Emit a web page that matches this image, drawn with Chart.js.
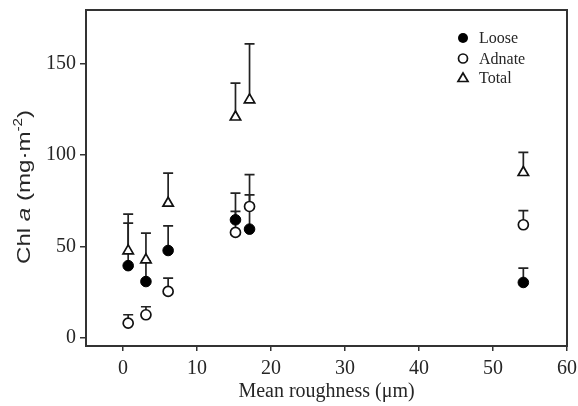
<!DOCTYPE html>
<html>
<head>
<meta charset="utf-8">
<script src="https://cdn.jsdelivr.net/npm/chart.js@4.4.1/dist/chart.umd.min.js"></script>
<style>
  html, body { margin: 0; padding: 0; background: #ffffff; }
  #wrap { width: 578px; height: 406px; position: relative; }
</style>
</head>
<body>
<div id="wrap"><canvas id="c"></canvas></div>
<script>
// ---- data ----
const roughness = [0.7, 3.1, 6.1, 15.2, 17.1, 54.1];          // mean roughness (µm)
const looseChl  = [39.5, 30.8, 47.8, 64.6, 59.5, 30.3];       // Loose, mg·m-2
const looseErr  = [23.3, 11.2, 13.5, 14.6, 18.8, 7.9];
const adnateChl = [8.0, 12.6, 25.4, 57.7, 71.9, 61.9];        // Adnate
const adnateErr = [4.6, 4.4, 7.3, 11.5, 17.4, 7.7];
const totalChl  = [47.6, 42.7, 73.7, 120.9, 130.3, 90.5];     // Total
const totalErr  = [20.1, 14.6, 16.5, 18.6, 30.7, 11.0];

const seriesNames = ['Loose', 'Adnate', 'Total'];
const xTicks = [0, 10, 20, 30, 40, 50, 60];
const yTicks = [0, 50, 100, 150];

const INK = '#222222';
const TEXT = '#262626';
const SERIF = "'Liberation Serif', 'Times New Roman', serif";
const SANS = "'Liberation Sans', Arial, sans-serif";

function pts(ys) { return roughness.map((x, i) => ({ x: x, y: ys[i] })); }

const errorSets = [
  { vals: looseChl, errs: looseErr },
  { vals: adnateChl, errs: adnateErr },
  { vals: totalChl, errs: totalErr }
];

const errorBars = {
  id: 'errorBars',
  beforeDatasetsDraw(chart) {
    const ctx = chart.ctx, xs = chart.scales.x, ys = chart.scales.y;
    ctx.save();
    ctx.strokeStyle = INK;
    ctx.lineWidth = 1.7;
    errorSets.forEach(s => {
      s.vals.forEach((v, i) => {
        const px = xs.getPixelForValue(roughness[i]);
        const p0 = ys.getPixelForValue(v);
        const p1 = ys.getPixelForValue(v + s.errs[i]);
        ctx.beginPath();
        ctx.moveTo(px, p0); ctx.lineTo(px, p1);
        ctx.moveTo(px - 5, p1); ctx.lineTo(px + 5, p1);
        ctx.stroke();
      });
    });
    ctx.restore();
  }
};

const frame = {
  id: 'frame',
  afterDraw(chart) {
    const ctx = chart.ctx, a = chart.chartArea;
    ctx.save();
    ctx.strokeStyle = '#333333';
    ctx.lineWidth = 2;
    ctx.strokeRect(a.left, a.top, a.right - a.left, a.bottom - a.top);

    // legend (top right, inside plot)
    const lx = 463, ly = [38, 58.5, 78], tx = 479;
    ctx.fillStyle = '#000';
    ctx.strokeStyle = '#111';
    ctx.lineWidth = 1.7;
    ctx.beginPath(); ctx.arc(lx, ly[0], 5, 0, Math.PI * 2); ctx.fill();
    ctx.beginPath(); ctx.arc(lx, ly[1], 4.5, 0, Math.PI * 2); ctx.stroke();
    ctx.beginPath();
    ctx.moveTo(lx, ly[2] - 5); ctx.lineTo(lx + 5, ly[2] + 3.5); ctx.lineTo(lx - 5, ly[2] + 3.5); ctx.closePath();
    ctx.stroke();
    ctx.fillStyle = TEXT;
    ctx.font = '16px ' + SERIF;
    ctx.textAlign = 'left';
    ctx.textBaseline = 'middle';
    seriesNames.forEach((n, i) => ctx.fillText(n, tx, ly[i] + 1));

    // y axis title: Chl a (mg·m-2), rotated
    const size = 19;
    const parts = [
      { t: 'Chl ', f: size + 'px ' + SANS, dy: 0 },
      { t: 'a', f: 'italic ' + size + 'px ' + SANS, dy: 0 },
      { t: ' (mg\u00B7m', f: size + 'px ' + SANS, dy: 0 },
      { t: '-2', f: Math.round(size * 0.65) + 'px ' + SANS, dy: -size * 0.42 },
      { t: ')', f: size + 'px ' + SANS, dy: 0 }
    ];
    let total = 0;
    parts.forEach(p => { ctx.font = p.f; p.w = ctx.measureText(p.t).width; total += p.w; });
    const target = 154;
    const sx = target / total;
    ctx.translate(30, 187);
    ctx.rotate(-Math.PI / 2);
    ctx.scale(sx, 1);
    ctx.textAlign = 'left';
    ctx.textBaseline = 'alphabetic';
    let cx = -total / 2;
    parts.forEach(p => { ctx.font = p.f; ctx.fillText(p.t, cx, p.dy); cx += p.w; });
    ctx.restore();
  }
};

new Chart(document.getElementById('c'), {
  type: 'scatter',
  data: {
    datasets: [
      { label: seriesNames[0], data: pts(looseChl), pointStyle: 'circle', pointRadius: 5.3,
        backgroundColor: '#000', borderColor: '#000', borderWidth: 1, order: 1 },
      { label: seriesNames[1], data: pts(adnateChl), pointStyle: 'circle', pointRadius: 5,
        backgroundColor: '#fff', borderColor: '#111', borderWidth: 1.7, order: 2 },
      { label: seriesNames[2], data: pts(totalChl), pointStyle: 'triangle', pointRadius: 6,
        backgroundColor: '#fff', borderColor: '#111', borderWidth: 1.7, order: 3 }
    ]
  },
  options: {
    responsive: true,
    maintainAspectRatio: false,
    animation: false,
    layout: { padding: { top: 10, right: 11, bottom: 0, left: 0 } },
    plugins: { legend: { display: false }, tooltip: { enabled: false } },
    scales: {
      x: {
        type: 'linear', min: -5, max: 60,
        afterBuildTicks: s => { s.ticks = xTicks.map(v => ({ value: v })); },
        afterFit: s => { s.height = 60; s.paddingLeft = 0; s.paddingRight = 0; },
        border: { display: false },
        grid: { display: true, drawOnChartArea: false, drawTicks: true, tickLength: 5, color: '#333', lineWidth: 1.5 },
        ticks: { color: TEXT, font: { family: SERIF, size: 20 }, padding: 6, maxRotation: 0 },
        title: { display: true, text: 'Mean roughness (\u03BCm)', color: TEXT,
                 font: { family: SERIF, size: 20 }, padding: { top: 0, bottom: 2 } }
      },
      y: {
        type: 'linear', min: -4.5, max: 179.5,
        afterBuildTicks: s => { s.ticks = yTicks.map(v => ({ value: v })); },
        afterFit: s => { s.width = 86; s.paddingTop = 0; s.paddingBottom = 0; },
        border: { display: false },
        grid: { display: true, drawOnChartArea: false, drawTicks: true, tickLength: 6, color: '#333', lineWidth: 1.5 },
        ticks: { color: TEXT, font: { family: SERIF, size: 20 }, padding: 4 }
      }
    }
  },
  plugins: [errorBars, frame]
});
</script>
</body>
</html>
